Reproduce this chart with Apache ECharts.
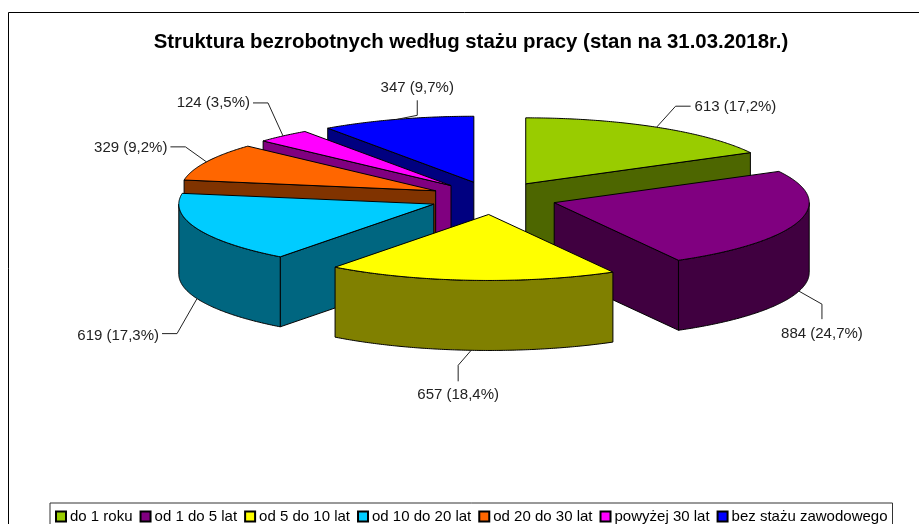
<!DOCTYPE html>
<html><head><meta charset="utf-8">
<style>html,body{margin:0;padding:0;background:#fff}#c{width:919px;height:524px}</style>
<script src="https://cdn.jsdelivr.net/npm/echarts@6/dist/echarts.min.js"></script>
</head><body><div id="c"></div>
<script>
const titleText = 'Struktura bezrobotnych według stażu pracy (stan na 31.03.2018r.)';
const categories = ['do 1 roku','od 1 do 5 lat','od 5 do 10 lat','od 10 do 20 lat','od 20 do 30 lat','powyżej 30 lat','bez stażu zawodowego'];
const values = [613,884,657,619,329,124,347];
const topColors = ['#99CC00','#800080','#FFFF00','#00CCFF','#FF6600','#FF00FF','#0000FF'];
const wallColors = ['#4D6600','#400040','#808000','#006680','#803300','#800080','#000080'];
const paintOrder = [6,5,4,3,0,1,2];
// layout of the tilted pie
const CX = 493, CY = 198, RX = 255, RY = 66, DEPTH = 70, EXPLODE = 0.25;
// leader line: knee and end offsets from the rim point, label anchor
const leaders = [
  {knee:[19,-21],end:[34,-21],align:'left',va:'middle',tx:4,ty:1},
  {knee:[23,13],end:[23,28],align:'center',va:'top',tx:0,ty:7},
  {knee:[-13,15],end:[-13,31],align:'center',va:'top',tx:0,ty:6},
  {knee:[-20,35],end:[-35,35],align:'right',va:'middle',tx:-3,ty:2},
  {knee:[-21,-15],end:[-36,-15],align:'right',va:'middle',tx:-3,ty:1},
  {knee:[-15,-33],end:[-30,-33],align:'right',va:'middle',tx:-3,ty:0},
  {knee:[20,-4],end:[20,-19],align:'center',va:'bottom',tx:0,ty:-5}
];
const total = values.reduce((a,b)=>a+b,0);
const rad = d => d*Math.PI/180;
const spans = []; {let acc=0; values.forEach(v=>{const a=acc/total*360; acc+=v; spans.push([a,acc/total*360]);});}

function rimPoint(o,t,dy){return [o[0]+RX*Math.sin(rad(t)), o[1]-RY*Math.cos(rad(t))+(dy||0)];}
function arc(o,a,b,dy){const pts=[];const n=Math.max(2,Math.ceil((b-a)*2));for(let i=0;i<=n;i++)pts.push(rimPoint(o,a+(b-a)*i/n,dy));return pts;}
function poly(points,fill,z2){return {type:'polygon',shape:{points},style:{fill,stroke:'#000',lineWidth:1,lineJoin:'round'},z2};}

function renderSlice(i){
  return function(params,api){
    const [a,b]=spans[i]; const m=(a+b)/2;
    const o=[CX+EXPLODE*RX*Math.sin(rad(m)), CY-EXPLODE*RY*Math.cos(rad(m))];
    const wall=wallColors[i], children=[];
    const radial=t=>{const r=rimPoint(o,t);return poly([o,r,[r[0],r[1]+DEPTH],[o[0],o[1]+DEPTH]],wall,1);};
    if(Math.sin(rad(a))<-1e-6) children.push(radial(a));
    if(Math.sin(rad(b))>1e-6) children.push(radial(b));
    const s=Math.max(a,90), e=Math.min(b,270);
    if(e>s){children.push(poly(arc(o,s,e,0).concat(arc(o,s,e,DEPTH).reverse()),wall,2));}
    children.push(poly([o].concat(arc(o,a,b,0)),topColors[i],3));
    const front=m>90&&m<270;
    const p0=rimPoint(o,m,front?DEPTH:0), L=leaders[i];
    const k=[p0[0]+L.knee[0],p0[1]+L.knee[1]], e2=[p0[0]+L.end[0],p0[1]+L.end[1]];
    children.push({type:'polyline',shape:{points:[p0,k,e2]},style:{fill:null,stroke:'#222',lineWidth:1},z2:4});
    const pct=(api.value(0)/total*100).toFixed(1).replace('.',',');
    children.push({type:'text',x:e2[0]+L.tx,y:e2[1]+L.ty,z2:5,style:{text:api.value(0)+' ('+pct+'%)',fill:'#222',
      font:'15px "Liberation Sans", Arial, sans-serif',textAlign:L.align,textVerticalAlign:L.va}});
    return {type:'group',children};
  };
}

const series = categories.map((name,i)=>({
  name,type:'custom',coordinateSystem:'none',silent:true,animation:false,
  z:2+paintOrder.indexOf(i),
  itemStyle:{color:topColors[i],borderColor:'#000',borderWidth:1},
  data:[[values[i]]],renderItem:renderSlice(i)
}));

const chart = echarts.init(document.getElementById('c'),null,{renderer:'canvas'});
chart.setOption({
  animation:false,backgroundColor:'#fff',
  title:{text:titleText,left:466,top:27,textAlign:'center',textStyle:{fontFamily:'"Liberation Sans", Arial, sans-serif',fontWeight:'bold',fontSize:20.4,color:'#000'}},
  legend:{data:categories,left:50,top:503,orient:'horizontal',itemWidth:10,itemHeight:10,itemGap:7,icon:'rect',
    padding:[6,5,12,5],borderColor:'#333',borderWidth:1,borderRadius:0,selectedMode:false,
    textStyle:{fontFamily:'"Liberation Sans", Arial, sans-serif',fontSize:15,color:'#000',padding:[2,0,0,-1]}},
  graphic:[{type:'rect',shape:{x:8.5,y:12.5,width:1200,height:1200},style:{fill:null,stroke:'#000',lineWidth:1},silent:true}],
  series
});
</script></body></html>
